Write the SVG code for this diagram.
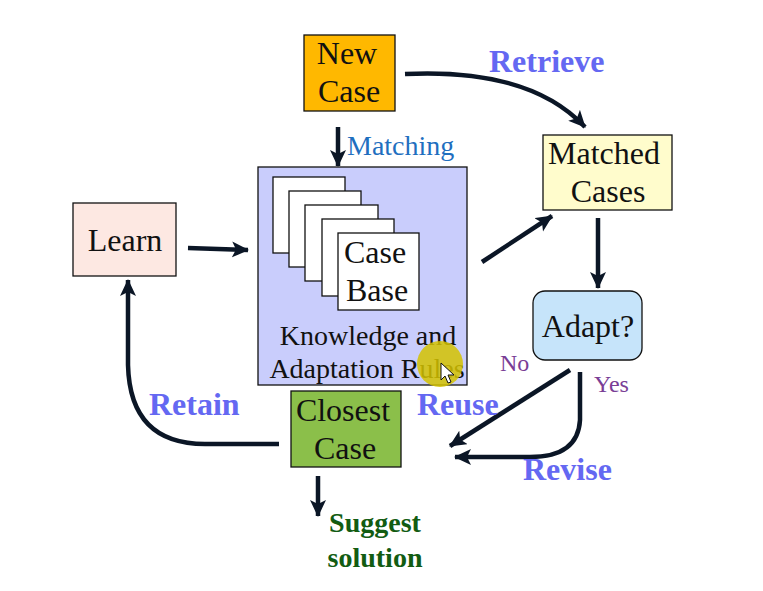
<svg xmlns="http://www.w3.org/2000/svg" width="763" height="591" viewBox="0 0 763 591">
<defs>
<marker id="ah" markerUnits="userSpaceOnUse" markerWidth="20" markerHeight="18" refX="16" refY="8" orient="auto">
<path d="M0,0 L17,8 L0,16 L4,8 Z" fill="#0b1626"/>
</marker>
</defs>
<style>
.box{stroke:#111;stroke-width:1.3}
.t{font-family:"Liberation Serif",serif;fill:#111;text-anchor:middle}
.big{font-size:32px}
.mid{font-size:28px}
.lbl{font-family:"Liberation Serif",serif;font-weight:bold;fill:#6468f2;font-size:32px}
.yn{font-family:"Liberation Serif",serif;fill:#7a3e96;font-size:24px}
.c{fill:none;stroke:#0b1626;stroke-width:4.5;marker-end:url(#ah)}
</style>
<rect width="763" height="591" fill="#fff"/>
<g id="new-case">
<rect class="box" x="304" y="35" width="91" height="76" fill="#ffb800"/>
<text class="t big" x="347" y="64">New</text>
<text class="t big" x="349" y="102">Case</text>
</g>
<g id="case-base">
<rect class="box" x="258" y="167" width="209" height="218" fill="#c9cdfc"/>
<rect class="box" x="273" y="177" width="72" height="76" fill="#fff"/>
<rect class="box" x="289" y="191" width="72" height="76" fill="#fff"/>
<rect class="box" x="305" y="205" width="73" height="76" fill="#fff"/>
<rect class="box" x="322" y="219" width="72" height="77" fill="#fff"/>
<rect class="box" x="338" y="233" width="81" height="77" fill="#fff"/>
<text class="t big" x="375" y="263">Case</text>
<text class="t big" x="377" y="301">Base</text>
<text class="t mid" x="368" y="345">Knowledge and</text>
<text class="t mid" x="367" y="378">Adaptation Rules</text>
</g>
<g id="matched-cases">
<rect class="box" x="543" y="135" width="129" height="75" fill="#fffccc"/>
<text class="t big" x="604" y="164">Matched</text>
<text class="t big" x="608" y="202">Cases</text>
</g>
<g id="learn">
<rect class="box" x="73" y="203" width="103" height="73" fill="#fde8e2"/>
<text class="t big" x="125" y="251">Learn</text>
</g>
<g id="adapt">
<rect class="box" x="533" y="291" width="109" height="69" rx="12" fill="#c6e4fa"/>
<text class="t big" x="588" y="337">Adapt?</text>
</g>
<g id="closest-case">
<rect class="box" x="291" y="391" width="110" height="76" fill="#8bbf4a"/>
<text class="t big" x="343" y="421">Closest</text>
<text class="t big" x="345" y="459">Case</text>
</g>
<g id="suggest">
<text class="t" x="375" y="532" style="font-size:28px;font-weight:bold;fill:#125c12">Suggest</text>
<text class="t" x="375" y="567" style="font-size:28px;font-weight:bold;fill:#125c12">solution</text>
</g>
<g id="connectors">
<path class="c" d="M405,74 Q530,68 585,127"/>
<path class="c" d="M338,127 L338,166"/>
<path class="c" d="M188,248 L248,250"/>
<path class="c" d="M482,262 L552,216"/>
<path class="c" d="M598,218 L598,288"/>
<path class="c" d="M570,370 L450,446"/>
<path class="c" d="M580,372 L580,420 Q578,457 530,457 L455,457"/>
<path class="c" d="M279,444 L205,444 Q130,444 128,365 L128,280"/>
<path class="c" d="M318,476 L318,516"/>
</g>
<g id="labels">
<text class="lbl" x="489" y="72">Retrieve</text>
<text x="347" y="155" style="font-family:'Liberation Serif',serif;font-size:28px;fill:#1f6fbf">Matching</text>
<text class="lbl" x="149" y="415">Retain</text>
<text class="lbl" x="417" y="415">Reuse</text>
<text class="lbl" x="523" y="480">Revise</text>
<text class="yn" x="500" y="371">No</text>
<text class="yn" x="594" y="392">Yes</text>
</g>
<g id="pointer">
<circle cx="440" cy="364" r="23" fill="#d4c200" fill-opacity="0.85"/>
<path d="M441,363 L441,380 L445,376 L448,383 L451,382 L448,375 L454,375 Z" fill="#fff" stroke="#111" stroke-width="1"/>
</g>
</svg>
